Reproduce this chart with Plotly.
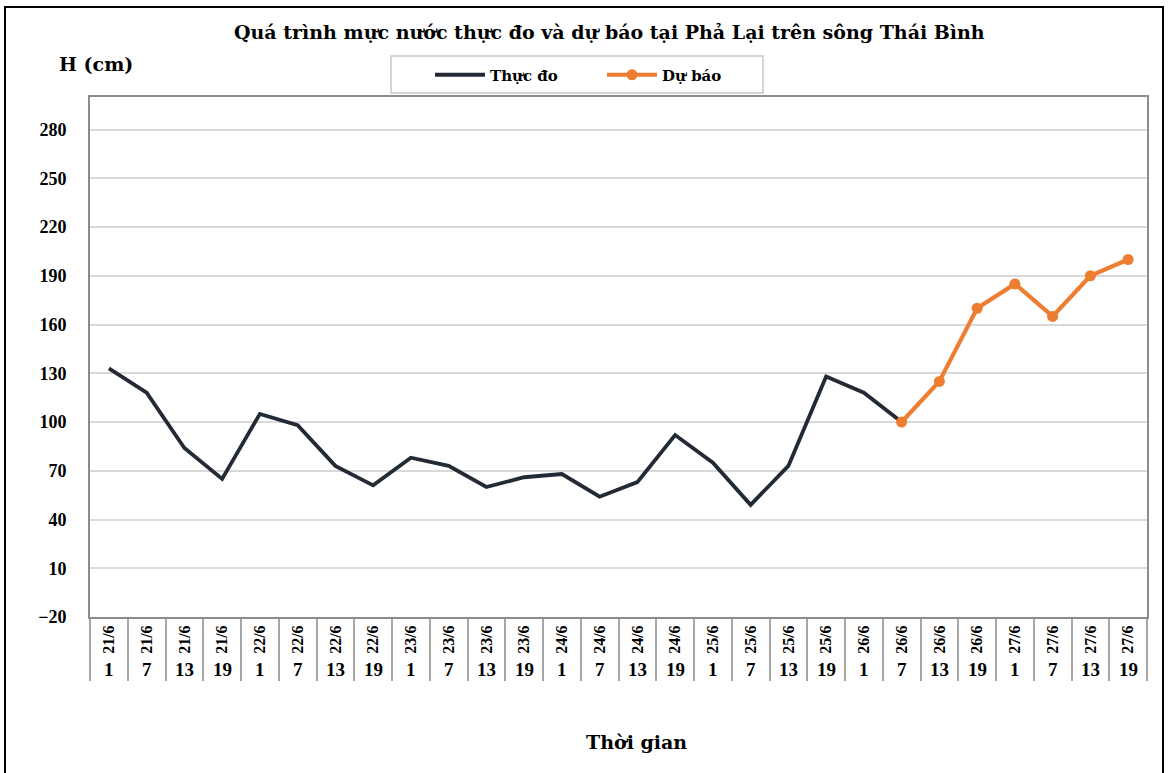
import plotly.graph_objects as go

dates = ["21/6"] * 4 + ["22/6"] * 4 + ["23/6"] * 4 + ["24/6"] * 4 + ["25/6"] * 4 + ["26/6"] * 4 + ["27/6"] * 4
hours = ["1", "7", "13", "19"] * 7
categories = [f"{d} {h}" for d, h in zip(dates, hours)]

thuc_do = [133, 118, 84, 65, 105, 98, 73, 61, 78, 73, 60, 66, 68, 54, 63, 92, 75, 49, 73, 128, 118, 100,
           None, None, None, None, None, None]
du_bao = [None] * 21 + [100, 125, 170, 185, 165, 190, 200]

y_ticks = [-20, 10, 40, 70, 100, 130, 160, 190, 220, 250, 280]

FONT = "Liberation Serif"
WIDE = "DejaVu Serif"

fig = go.Figure()
fig.add_trace(go.Scatter(x=categories, y=thuc_do, mode="lines", name="Thực đo",
                         line=dict(color="#222a35", width=3.8)))
fig.add_trace(go.Scatter(x=categories, y=du_bao, mode="lines+markers", name="Dự báo",
                         line=dict(color="#ed7d31", width=4.2),
                         marker=dict(color="#ed7d31", size=11)))

# plot area in pixels: left 90, right 1147, top 97, bottom 617
L, R, T, B = 90, 1147, 97, 617
W, H = R - L, B - T
def px(x):
    return (x - L) / W
def py(y):
    return (B - y) / H

annotations = [
    dict(text="<b>Quá trình mực nước thực đo và dự báo tại Phả Lại trên sông Thái Bình</b>",
         xref="paper", yref="paper", x=px(609), y=py(32), showarrow=False,
         font=dict(family=WIDE, size=19, color="black"), xanchor="center", yanchor="middle"),
    dict(text="<b>H (cm)</b>", xref="paper", yref="paper", x=px(57), y=py(64), showarrow=False,
         font=dict(family=WIDE, size=19, color="black"), xanchor="left", yanchor="middle"),
    dict(text="<b>Thời gian</b>", xref="paper", yref="paper", x=px(636), y=py(742), showarrow=False,
         font=dict(family=WIDE, size=19, color="black"), xanchor="center", yanchor="middle"),
]
for c, h in zip(categories, hours):
    annotations.append(dict(text=f"<b>{h}</b>", xref="x", yref="paper", x=c, y=py(669),
                            showarrow=False, xanchor="center", yanchor="middle",
                            font=dict(family=FONT, size=19, color="black")))

shapes = [
    # outer border
    dict(type="rect", xref="paper", yref="paper", x0=px(5), x1=px(1163), y0=py(790), y1=py(7),
         line=dict(color="black", width=2), layer="below"),
    # legend box
    dict(type="rect", xref="paper", yref="paper", x0=px(391), x1=px(763), y0=py(93), y1=py(56),
         line=dict(color="#c8c8c8", width=1.5), layer="below"),
]

fig.update_layout(
    width=1168, height=773,
    margin=dict(l=L, r=1168 - R, t=T, b=773 - B),
    paper_bgcolor="white", plot_bgcolor="white",
    showlegend=True,
    legend=dict(orientation="h", x=px(430), y=py(75), xanchor="left", yanchor="middle",
                font=dict(family=WIDE, size=15, color="black", weight="bold"),
                bgcolor="rgba(0,0,0,0)", borderwidth=0, itemwidth=50, entrywidth=107),
    annotations=annotations,
    shapes=shapes,
    font=dict(family=FONT, color="black"),
)
fig.update_xaxes(
    type="category", categoryorder="array", categoryarray=categories,
    tickmode="array", tickvals=categories, ticktext=dates,
    tickangle=-90, tickson="boundaries", ticks="outside", ticklen=62, tickcolor="#a6a6a6", tickwidth=1.5,
    tickfont=dict(family=FONT, size=16, color="black", weight="bold"),
    showgrid=False, showline=True, mirror=True, linecolor="#8c8c8c", linewidth=2,
    range=[-0.5, 27.5],
)
fig.update_yaxes(
    range=[-20, 300], tickmode="array", tickvals=y_ticks,
    tickfont=dict(family=FONT, size=18, color="black", weight="bold"),
    showgrid=True, gridcolor="#d9d9d9", gridwidth=1.5, zeroline=False,
    showline=True, mirror=True, linecolor="#8c8c8c", linewidth=2,
    ticks="outside", ticklen=18, tickcolor="rgba(0,0,0,0)",
)

fig.write_html("out.html", config={"displayModeBar": False},
               post_script="document.body.style.margin='0';")
